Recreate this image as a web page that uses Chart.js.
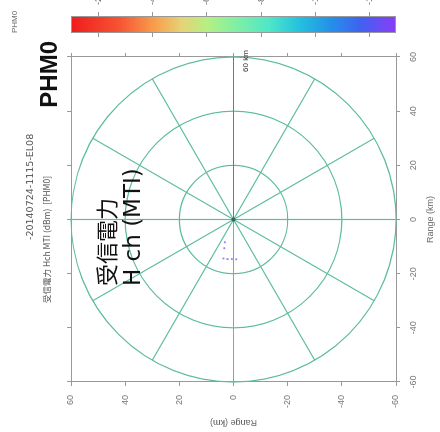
<!DOCTYPE html>
<html><head><meta charset="utf-8">
<script src="https://cdn.jsdelivr.net/npm/chart.js@4/dist/chart.umd.min.js"></script>
<style>
html,body{margin:0;padding:0;background:#fff;overflow:hidden;width:440px;height:432px;}
#wrap{position:absolute;left:0;top:0;width:432px;height:440px;transform-origin:0 0;transform:translateY(432px) rotate(-90deg);}
canvas{display:block}
</style></head><body>
<div id="wrap"><canvas id="c" width="432" height="440"></canvas></div>
<script>
// ---- data ----
const rangeTicks = [-60, -40, -20, 0, 20, 40, 60];
const ringRanges = [20, 40, 60];
const spokeAzimuths = [0, 30, 60, 90, 120, 150, 180, 210, 240, 270, 300, 330];
const headingAzimuth = [90];
const echoX = [-8.4, -10.6, -14.4, -14.6, -14.6, -14.7];
const echoY = [3.2, 3.4, 3.7, 2.2, 0.6, -1.0];
const colorbarLabels = ['-20', '-40', '-60', '-80', '-100', '-120'];
const stationName = 'PHM0';
const timeLabel = '-20140724-1115-EL08';
const productLabel = '受信電力 Hch MTI (dBm)  [PHM0]';
const overlayLines = ['受信電力', 'H ch (MTI)'];
const ringLabel = '60 km';

const GRID = 'rgb(92,188,158)';
const FR = '#999';

const radarPlugin = {
  id: 'radar',
  beforeDatasetsDraw(chart) {
    const { ctx, scales: { x, y } } = chart;
    const cx = x.getPixelForValue(0), cy = y.getPixelForValue(0);
    const rMax = Math.max(...ringRanges);
    ctx.save();
    ctx.strokeStyle = GRID; ctx.lineWidth = 1.2;
    ringRanges.forEach(r => {
      const rx = x.getPixelForValue(r) - cx, ry = cy - y.getPixelForValue(r);
      ctx.beginPath(); ctx.ellipse(cx, cy, rx, ry, 0, 0, Math.PI * 2); ctx.stroke();
    });
    spokeAzimuths.forEach(az => {
      const a = az * Math.PI / 180;
      ctx.beginPath(); ctx.moveTo(cx, cy);
      ctx.lineTo(x.getPixelForValue(rMax * Math.sin(a)), y.getPixelForValue(rMax * Math.cos(a)));
      ctx.stroke();
    });
    ctx.strokeStyle = '#777';
    headingAzimuth.forEach(az => {
      const a = az * Math.PI / 180;
      ctx.beginPath(); ctx.moveTo(cx, cy);
      ctx.lineTo(x.getPixelForValue(rMax * Math.sin(a)), y.getPixelForValue(rMax * Math.cos(a)));
      ctx.stroke();
    });
    ctx.fillStyle = '#2a6a60';
    ctx.beginPath(); ctx.arc(cx, cy, 2, 0, Math.PI * 2); ctx.fill();
    ctx.restore();
  },
  afterDraw(chart) {
    const { ctx, chartArea: ca, scales: { x, y } } = chart;
    ctx.save();
    // colorbar
    const bx = ca.right + 24, bw = 17, by = ca.top, bh = ca.bottom - ca.top;
    const g = ctx.createLinearGradient(0, by, 0, by + bh);
    [[0, '#f01c1c'], [0.15, '#f65434'], [0.26, '#f8a04c'], [0.34, '#e6d276'], [0.42, '#b4f082'],
     [0.5, '#84f0a2'], [0.61, '#50e6c8'], [0.7, '#24c2de'], [0.8, '#2490e8'], [0.89, '#4062f0'], [1, '#8a3cf8']]
      .forEach(s => g.addColorStop(s[0], s[1]));
    ctx.fillStyle = g; ctx.fillRect(bx, by, bw, bh);
    ctx.strokeStyle = '#999'; ctx.lineWidth = 1; ctx.strokeRect(bx + 0.5, by + 0.5, bw - 1, bh - 1);
    ctx.fillStyle = '#666'; ctx.font = '9px "Liberation Sans"'; ctx.textBaseline = 'middle'; ctx.textAlign = 'left';
    colorbarLabels.forEach((lab, i) => {
      const py = Math.round(by + (i + 0.5) * bh / colorbarLabels.length) + 0.5;
      ctx.beginPath(); ctx.moveTo(bx - 4, py); ctx.lineTo(bx, py); ctx.moveTo(bx + bw, py); ctx.lineTo(bx + bw + 4, py); ctx.stroke();
      ctx.fillText(lab, bx + bw + 11, py);
    });
    // ring label
    ctx.fillStyle = '#333'; ctx.font = '8px "Liberation Sans"';
    ctx.fillText(ringLabel, x.getPixelForValue(54.5), y.getPixelForValue(-4.6));
    // header texts
    ctx.fillStyle = '#666'; ctx.font = '8px "Liberation Sans"';
    ctx.fillText(stationName, 399, 14.5);
    ctx.fillStyle = '#111'; ctx.font = 'bold 24px "Liberation Sans"'; ctx.textAlign = 'right';
    ctx.fillText(stationName, 391, 50);
    ctx.textAlign = 'left'; ctx.fillStyle = '#555';
    ctx.font = '9.5px "DejaVu Sans"';
    ctx.fillText(timeLabel, 192, 31);
    ctx.font = '8.5px "Noto Sans CJK JP"';
    ctx.fillText(productLabel, 129, 47);
    // overlay
    ctx.fillStyle = '#111';
    ctx.font = '22px "Noto Sans CJK JP"';
    ctx.fillText(overlayLines[0], 146, 107);
    ctx.font = '23px "DejaVu Sans"';
    ctx.fillText(overlayLines[1], 146, 134);
    ctx.restore();
  }
};

const tickFont = { family: 'Liberation Sans', size: 9 };
const mkAxis = (pos, extra) => Object.assign({
  type: 'linear', position: pos, min: -60, max: 60,
  afterBuildTicks: s => { s.ticks = rangeTicks.map(v => ({ value: v })); },
  grid: { drawOnChartArea: false, drawTicks: true, tickLength: 4, color: FR },
  border: { color: FR, width: 1 }
}, extra);

new Chart(document.getElementById('c'), {
  type: 'scatter',
  data: { datasets: [{
    data: echoX.map((v, i) => ({ x: v, y: echoY[i] })),
    pointStyle: 'rect', pointRadius: 1.3, backgroundColor: 'rgba(140,100,230,0.85)', borderWidth: 0
  }] },
  options: {
    responsive: false, devicePixelRatio: 1, animation: false,
    layout: { padding: { top: 71, right: 57, bottom: 0, left: 0 } },
    plugins: { legend: { display: false }, tooltip: { enabled: false } },
    scales: {
      x: mkAxis('bottom', {
        ticks: { font: tickFont, color: '#777', padding: 8, maxRotation: 0 },
        title: { display: true, text: 'Range (km)', font: tickFont, color: '#666' },
        afterFit: s => { s.height = 44; }
      }),
      y: mkAxis('left', {
        ticks: { font: tickFont, color: '#777', padding: 9 },
        title: { display: true, text: 'Range (km)', font: tickFont, color: '#666' },
        afterFit: s => { s.width = 50; }
      }),
      x2: mkAxis('top', { ticks: { display: false }, afterFit: s => { s.height = 0; } }),
      y2: mkAxis('right', { ticks: { display: false }, afterFit: s => { s.width = 0; } })
    }
  },
  plugins: [radarPlugin]
});
</script>
</body></html>
